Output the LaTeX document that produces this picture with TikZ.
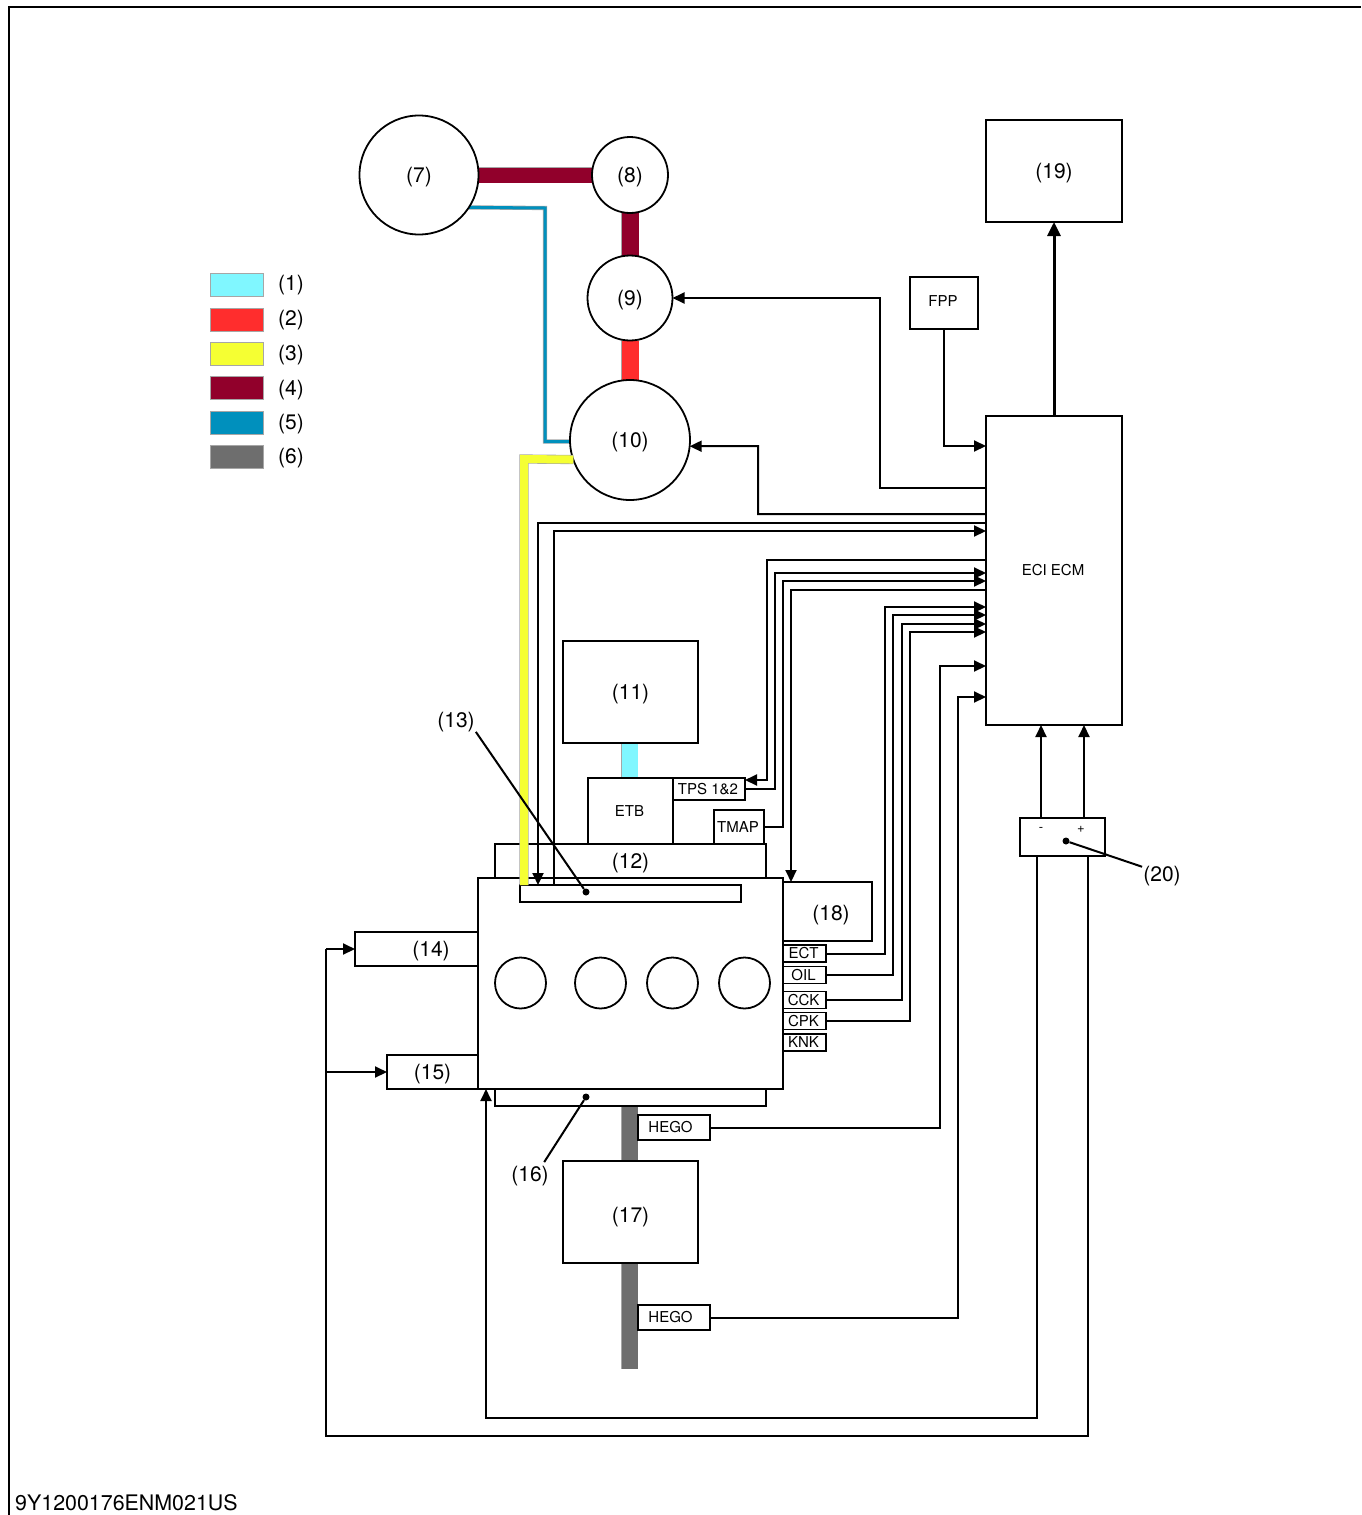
\documentclass[tikz,border=0pt]{standalone}
\usepackage{fontspec}
\setmainfont{TeX Gyre Heros}
\usepackage{xcolor}
\usepackage{tikz}
\usetikzlibrary{arrows.meta}
\usetikzlibrary{backgrounds}
\definecolor{airblue}{HTML}{80F7FF}
\definecolor{hotred}{HTML}{FF2D2D}
\definecolor{mixyellow}{HTML}{F5FF33}
\definecolor{fuelred}{HTML}{91002B}
\definecolor{ventblue}{HTML}{0090BD}
\definecolor{exhgray}{HTML}{6E6E6E}
\tikzset{>=stealth}
\tikzstyle{line} = [draw, line width=2pt, -{Triangle[length=12pt,width=11pt]}]
\tikzstyle{wire} = [draw, line width=2pt]
\tikzstyle{lead} = [draw, line width=2pt]

\begin{document}
\begin{tikzpicture}[x=1pt,y=-1pt,
      circ/.style={draw, circle, line width=1.8pt, fill=white, inner sep=0pt, outer sep=0pt,
        minimum size=#1, font=\fontsize{21}{25}\selectfont, text height=18pt, text depth=3.4pt},
      bar/.style 2 args={draw, rectangle, line width=1.8pt, inner sep=0pt, outer sep=0pt,
        minimum width=#1, minimum height=#2},
      box/.style 2 args={bar={#1}{#2}, font=\fontsize{21}{25}\selectfont,
        text height=18pt, text depth=3.4pt},
      tag/.style 2 args={bar={#1}{#2}, font=\fontsize{15}{18}\selectfont,
        execute at end node={\hspace*{2pt}}},
      swatch/.style={draw=gray!70, line width=.6pt, fill=#1, inner sep=0pt,
        minimum width=53pt, minimum height=23pt},
      txt/.style={inner sep=1pt, font=\fontsize{21}{25}\selectfont,
        text height=18pt, text depth=3.4pt},
      dot/.style={circle, fill=black, inner sep=0pt, minimum size=7pt},
      pipe/.style 2 args={draw=gray!70, line width=.6pt, double=#1, double distance=#2}]
    \useasboundingbox (0,0) rectangle (1361,1515);
    %% frame and drawing number
    \draw [line width=1.5pt] (9,1515) -- (9,7) -- (1361,7);
    \node [anchor=west, inner sep=0pt, font=\fontsize{21.4}{26}\selectfont] at (15,1503) (DrawNo) {9Y1200176ENM021US};
    %% legend
    \node [swatch=airblue] at (236.5,285) (Sw1) {};
    \node [swatch=hotred] at (236.5,319.5) (Sw2) {};
    \node [swatch=mixyellow] at (236.5,353.5) (Sw3) {};
    \node [swatch=fuelred] at (236.5,388) (Sw4) {};
    \node [swatch=ventblue] at (236.5,422.5) (Sw5) {};
    \node [swatch=exhgray] at (236.5,456.5) (Sw6) {};
    \node [txt] at (291,283) (Leg1) {(1)};
    \node [txt] at (291,318) (Leg2) {(2)};
    \node [txt] at (291,353) (Leg3) {(3)};
    \node [txt] at (291,388) (Leg4) {(4)};
    \node [txt] at (291,422) (Leg5) {(5)};
    \node [txt] at (291,456) (Leg6) {(6)};
    %% fuel side
    \node [circ=119pt] at (419,175) (N7) {(7)};
    \node [circ=76pt] at (630,175) (N8) {(8)};
    \node [circ=85pt] at (630,298) (N9) {(9)};
    \node [circ=120pt] at (630,440) (N10) {(10)};
    %% control unit
    \node [box={136pt}{102pt}] at (1054,171) (B19) {(19)};
    \node [tag={68pt}{52pt}, text height=11pt, text depth=4pt] at (944,303) (FPP) {FPP};
    \node [tag={136pt}{309pt}] at (1054,570.5) (ECM) {ECI ECM};
    %% intake
    \node [box={135pt}{102pt}, fill=white] at (630.5,692) (B11) {(11)};
    \node [tag={85pt}{66pt}] at (630.5,811) (ETB) {ETB};
    \node [tag={72pt}{22pt}] at (709,789) (TPS) {TPS 1\&2};
    \node [tag={50pt}{34pt}] at (739,827) (TMAP) {TMAP};
    \node [box={271pt}{34pt}] at (630.5,861) (B12) {(12)};
    \node [bar={221pt}{17pt}] at (630.5,893.5) (Bar13) {};
    %% engine
    \node [bar={305pt}{211pt}] at (630.5,983.5) (Engine) {};
    \node [circ=51pt] at (520.5,983) (Cyl1) {};
    \node [circ=51pt] at (600.5,983) (Cyl2) {};
    \node [circ=51pt] at (672.5,983) (Cyl3) {};
    \node [circ=51pt] at (744.5,983) (Cyl4) {};
    \node [box={89pt}{59pt}, text height=22pt] at (827.5,911.5) (B18) {\hspace*{7pt}(18)};
    \node [box={123pt}{34pt}] at (416.5,949) (B14) {\hspace*{29pt}(14)};
    \node [box={91pt}{34pt}] at (432.5,1072) (B15) {(15)};
    %% engine sensors
    \node [tag={43pt}{17pt}] at (804.5,953.5) (ECT) {ECT};
    \node [tag={43pt}{17pt}] at (804.5,975) (OIL) {OIL};
    \node [tag={43pt}{17pt}] at (804.5,1000) (CCK) {CCK};
    \node [tag={43pt}{17pt}] at (804.5,1021) (CPK) {CPK};
    \node [tag={43pt}{17pt}] at (804.5,1042.5) (KNK) {KNK};
    %% exhaust
    \node [bar={271pt}{17pt}] at (630.5,1097.5) (Bar16) {};
    \node [box={135pt}{102pt}, fill=white, text height=24pt] at (630.5,1212) (B17) {(17)};
    \node [tag={72pt}{25pt}, fill=white] at (674,1127.5) (Hego1) {HEGO\hspace*{5pt}};
    \node [tag={72pt}{25pt}, fill=white] at (674,1317.5) (Hego2) {HEGO\hspace*{5pt}};
    \coordinate (ExhEnd) at (629.5,1369);
    %% battery
    \node [bar={85pt}{38pt}] at (1062.5,837) (Batt) {};
    \node [inner sep=0pt, font=\fontsize{13}{15}\selectfont] at (1041,829) (Minus) {-};
    \node [inner sep=0pt, font=\fontsize{13}{15}\selectfont] at (1081,829) (Plus) {+};
    %% pipes go under the nodes
    \begin{scope}[on background layer]
      \path [pipe={fuelred}{15pt}] (N7) -- (N8);
      \path [pipe={fuelred}{17pt}] (N8) -- (N9);
      \path [pipe={hotred}{17pt}] (N9) -- (N10);
      \path [pipe={airblue}{16pt}] (B11.south -| ExhEnd) -- (ETB.north -| ExhEnd);
      \path [pipe={ventblue}{3pt}] (N7.-33.7) -- (545,208) -- (545,441.5) -- (N10.west |- 0,441.5);
      \path [pipe={exhgray}{16pt}] (Bar16.south -| ExhEnd) -- (ExhEnd);
    \end{scope}
    %% the yellow one lies over the intake boxes
    \path [pipe={mixyellow}{8pt}] (N10.-161.5) -- (524,459) -- (Bar13.north -| 524,0);
    %% ECM outputs
    \path [line, line width=3pt, -{Triangle[length=14pt,width=13pt]}] (ECM.north) -- (B19);
    \path [line] (ECM.west |- 0,488) -| (880,298) -- (N9);
    \path [line] (FPP) |- (ECM.west |- 0,446);
    \path [line] (ECM.west |- 0,514) -| (758,446) -- (N10.-6);
    \path [line] (ECM.west |- 0,523) -| (538,885);
    \path [line] (ECM.west |- 0,560) -| (767,780) -- (TPS.east |- 0,780);
    \path [line] (ECM.west |- 0,590) -| (791,882);
    %% ECM inputs
    \path [line] (554,885) |- (ECM.west |- 0,531);
    \path [line] (TPS) -| (775,573) -- (ECM.west |- 0,573);
    \path [line] (TMAP) -| (783,581) -- (ECM.west |- 0,581);
    \path [line] (ECT) -| (885,607) -- (ECM.west |- 0,607);
    \path [line] (OIL) -| (893,615) -- (ECM.west |- 0,615);
    \path [line] (CCK) -| (902,624) -- (ECM.west |- 0,624);
    \path [line] (CPK) -| (910,632) -- (ECM.west |- 0,632);
    \path [line] (Hego1) -| (940,666) -- (ECM.west |- 0,666);
    \path [line] (Hego2) -| (958,697) -- (ECM.west |- 0,697);
    %% battery feeds
    \path [line] (Batt.north -| Minus) -- (ECM.south -| Minus);
    \path [line] (Batt.north -| 1084,0) -- (ECM.south -| 1084,0);
    \path [line] (Batt.south -| 1037,0) |- (486,1418) -- (Engine.south -| 486,0);
    \path [wire] (Batt.south -| 1088,0) |- (326,1436) -- (326,949);
    \path [line] (326,949) -- (B14);
    \path [line] (326,1072) -- (B15);
    %% callouts
    \node [dot] at (586,892) (Dot13) {};
    \node [dot] at (586,1097) (Dot16) {};
    \node [dot] at (1066,841) (Dot20) {};
    \node [txt] at (456,720) (Lab13) {(13)};
    \node [txt] at (530,1174) (Lab16) {(16)};
    \node [txt] at (1162,874) (Lab20) {(20)};
    \path [lead] (Lab13.south east) -- (Dot13);
    \path [lead] (Lab16.40) -- (Dot16);
    \path [lead] (Lab20.160) -- (Dot20);
  \end{tikzpicture}
\end{document}
